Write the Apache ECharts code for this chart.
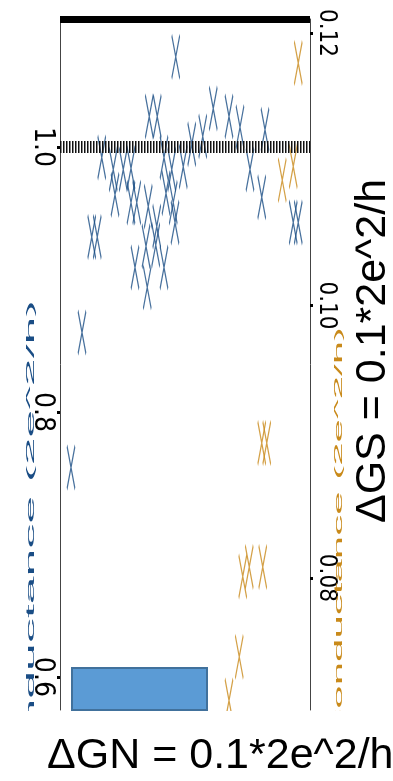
<!DOCTYPE html>
<html>
<head>
<meta charset="utf-8">
<script src="https://cdn.jsdelivr.net/npm/echarts@6/dist/echarts.min.js"></script>
<style>
html,body{margin:0;padding:0;background:#fff;}
#chart{width:393px;height:781px;}
</style>
</head>
<body>
<div id="chart"></div>
<script>
// ---- data ----
const blueX = [46.3, 35.7, 38.9, 61.3, 67.6, 72.0, 82.0, 57.1, 52.7, 49.3,
               16.7, 21.3, 22.0, 25.3, 28.4, 28.4, 30.7, 12.7, 14.9, 30.0,
               35.3, 34.4, 34.9, 38.7, 38.3, 41.6, 42.4, 41.6, 44.7, 45.3,
               46.0, 76.0, 80.7, 93.3, 95.3, 8.8, 4.4];
const blueY = [1.068, 1.023, 1.023, 1.029, 1.023, 1.015, 1.013, 1.008, 1.002, 0.985,
               0.992, 0.983, 0.964, 0.983, 0.984, 0.958, 0.958, 0.932, 0.932, 0.909,
               0.955, 0.925, 0.894, 0.940, 0.926, 0.992, 0.965, 0.909, 0.983, 0.958,
               0.943, 0.983, 0.962, 0.943, 0.943, 0.860, 0.758];
const orangeX = [95.3, 93.3, 88.9, 80.7, 82.7, 73.1, 75.7, 81.1, 71.7, 67.6];
const orangeY = [0.1178, 0.1102, 0.1092, 0.0899, 0.0899, 0.0801, 0.0808, 0.0808, 0.0742, 0.0710];
const leftTicks = [0.6, 0.8, 1.0];
const rightTicks = [0.08, 0.10, 0.12];
const refLevel = 1.0;
const leftTitle = 'Conductance (2e^2/h)';
const rightTitle = 'Conductance (2e^2/h)';
const sideNote = 'ΔGS = 0.1*2e^2/h';
const bottomNote = 'ΔGN = 0.1*2e^2/h';

const BLUE = '#1a4d85';
const ORANGE = '#c98a1a';
const XMARK = 'path://M0,0L8,43M8,0L0,43';
const TICKFONT = "'DejaVu Sans Condensed', 'Liberation Sans', sans-serif";

const chart = echarts.init(document.getElementById('chart'), null, {renderer: 'canvas'});
const zip = (a, b) => a.map((v, i) => [v, b[i]]);

chart.setOption({
  animation: false,
  backgroundColor: '#fff',
  grid: {left: 60, right: 83, top: 19, bottom: 71, containLabel: false},
  xAxis: [
    {type: 'value', min: 0, max: 100, show: false},
    {type: 'value', position: 'top', min: 0, max: 100,
     axisLine: {show: true, onZero: false, lineStyle: {color: '#000', width: 7, cap: 'butt'}},
     axisTick: {show: false}, axisLabel: {show: false}, splitLine: {show: false}}
  ],
  yAxis: [
    {type: 'value', position: 'left', min: 0.575, max: 1.0966,
     axisLine: {show: true, onZero: false, lineStyle: {color: '#444', width: 1}},
     axisTick: {show: true, length: 3, lineStyle: {color: '#000', width: 3}, customValues: leftTicks},
     axisLabel: {customValues: leftTicks, rotate: -90, margin: 4, color: '#000', fontSize: 28,
                 fontFamily: TICKFONT, formatter: v => Number(v).toFixed(1)},
     splitLine: {show: false}},
    {type: 'value', position: 'right', min: 0.0703, max: 0.12103,
     axisLine: {show: true, onZero: false, lineStyle: {color: '#444', width: 1}},
     axisTick: {show: true, length: 3, lineStyle: {color: '#000', width: 3}, customValues: rightTicks},
     axisLabel: {customValues: rightTicks, rotate: -90, margin: 4, color: '#000', fontSize: 24,
                 fontFamily: TICKFONT, formatter: v => Number(v).toFixed(2)},
     splitLine: {show: false}}
  ],
  series: [
    {type: 'scatter', xAxisIndex: 0, yAxisIndex: 0, data: zip(blueX, blueY),
     symbol: XMARK, symbolSize: [8, 43],
     itemStyle: {color: 'rgba(0,0,0,0)', borderColor: BLUE, borderWidth: 2.1},
     markLine: {silent: true, symbol: ['none', 'none'], label: {show: false},
                lineStyle: {color: '#111', width: 12, type: [1.5, 1.5]},
                data: [{yAxis: refLevel}]}},
    {type: 'scatter', xAxisIndex: 0, yAxisIndex: 1, data: zip(orangeX, orangeY),
     symbol: XMARK, symbolSize: [8, 43],
     itemStyle: {color: 'rgba(0,0,0,0)', borderColor: ORANGE, borderWidth: 2.1}}
  ],
  graphic: [
    {type: 'text', x: 31, y: 300, rotation: Math.PI / 2, scaleX: 5, z: 10,
     style: {text: leftTitle, fill: BLUE, fontSize: 10, fontFamily: 'Liberation Sans',
             textAlign: 'right', textVerticalAlign: 'middle'}},
    {type: 'text', x: 339, y: 327, rotation: Math.PI / 2, scaleX: 4.2, z: 10,
     style: {text: rightTitle, fill: ORANGE, fontSize: 10, fontFamily: 'Liberation Sans',
             textAlign: 'right', textVerticalAlign: 'middle'}},
    {type: 'rect', shape: {x: 72, y: 668, width: 135, height: 42}, z: 20,
     style: {fill: '#5b9bd5', stroke: '#41719c', lineWidth: 2}},
    {type: 'rect', shape: {x: 0, y: 711, width: 393, height: 70}, z: 50,
     style: {fill: '#fff'}},
    {type: 'text', x: 373, y: 351, rotation: Math.PI / 2, z: 60,
     style: {text: sideNote, fill: '#000', fontSize: 43, fontFamily: 'Liberation Sans',
             textAlign: 'center', textVerticalAlign: 'middle'}},
    {type: 'text', x: 47, y: 756, z: 60,
     style: {text: bottomNote, fill: '#000', fontSize: 43, fontFamily: 'Liberation Sans',
             textAlign: 'left', textVerticalAlign: 'middle'}}
  ]
});
</script>
</body>
</html>
